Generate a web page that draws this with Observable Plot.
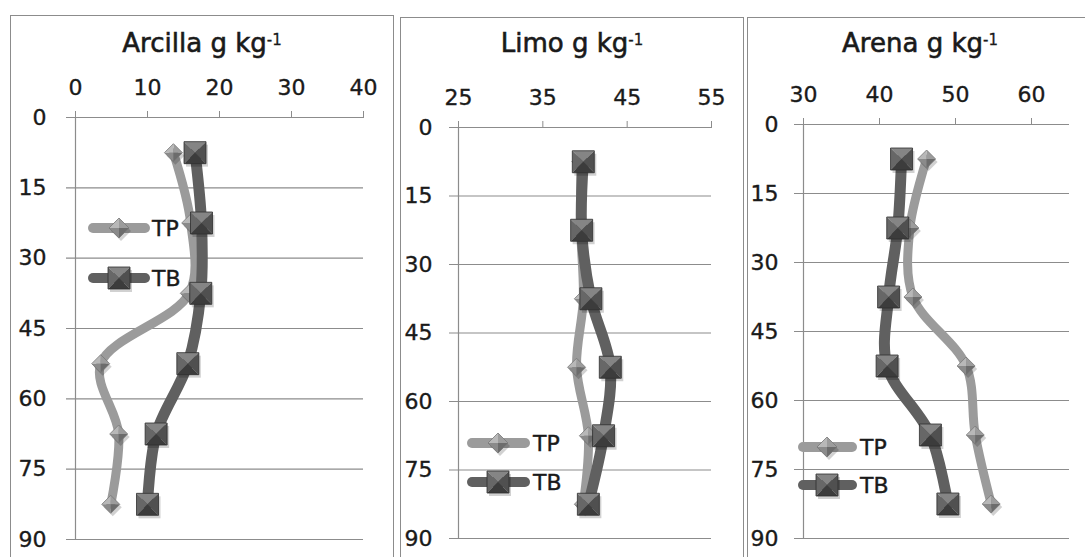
<!DOCTYPE html>
<html><head><meta charset="utf-8">
<script src="https://cdn.jsdelivr.net/npm/d3@7"></script>
<script src="https://cdn.jsdelivr.net/npm/@observablehq/plot@0.6"></script>
<style>
html,body{margin:0;padding:0;background:#fff;}
body{position:relative;width:1085px;height:557px;overflow:hidden;font-family:"DejaVu Sans",sans-serif;color:#1a1a1a;}
.panel{position:absolute;border:1px solid #8c8c8c;background:#fff;box-sizing:border-box;height:620px;}
.title{position:absolute;text-align:center;font-size:26px;line-height:30px;color:#1a1a1a;-webkit-text-stroke:0.6px #1a1a1a;}
.title sup{font-size:15px;vertical-align:top;position:relative;top:-3px;-webkit-text-stroke:0.3px #1a1a1a;}
.chart{position:absolute;}
.chart svg{overflow:visible;}
.chart svg text{stroke:#1a1a1a;stroke-width:0.35px;}
#legend{position:absolute;left:0;top:0;}
</style></head>
<body>
<div class="panel" style="left:10px;top:15px;width:384px;"></div>
<div class="panel" style="left:400px;top:17px;width:344px;"></div>
<div class="panel" style="left:747px;top:17px;width:346px;"></div>
<div class="title" style="left:10px;top:28px;width:384px;">Arcilla g kg<sup>-1</sup></div>
<div class="title" style="left:400px;top:28px;width:344px;">Limo g kg<sup>-1</sup></div>
<div class="title" style="left:747px;top:28px;width:346px;">Arena g kg<sup>-1</sup></div>
<div class="chart" id="c1" style="left:11px;top:60px;"></div>
<div class="chart" id="c2" style="left:401px;top:60px;"></div>
<div class="chart" id="c3" style="left:748px;top:60px;"></div>
<svg id="legend" width="1085" height="557"></svg>
<script>
// ---- data ----
const depth = [7.5, 22.5, 37.5, 52.5, 67.5, 82.5];
const yTicks = [0, 15, 30, 45, 60, 75, 90];
const arcillaTP = [13.6, 16.0, 15.8, 3.5, 6.0, 4.9];
const arcillaTB = [16.6, 17.5, 17.4, 15.6, 11.2, 10.0];
const limoTP = [39.5, 39.5, 39.8, 39.0, 40.4, 39.8];
const limoTB = [39.8, 39.6, 40.7, 43.0, 42.2, 40.4];
const arenaTP = [46.2, 44.0, 44.4, 51.4, 52.6, 54.7];
const arenaTB = [42.9, 42.4, 41.2, 41.0, 46.7, 49.0];
const arcillaTicks = [0, 10, 20, 30, 40];
const limoTicks = [25, 35, 45, 55];
const arenaTicks = [30, 40, 50, 60];
const seriesNames = ["TP", "TB"];

// ---- styling ----
const gridColor = "#8c8c8c";
const tpColor = "#9b9b9b";
const tbColor = "#606060";

function sym(points) {
  return {draw(ctx, size) {
    const r = Math.sqrt(size / Math.PI);
    ctx.moveTo(points[0][0] * r, points[0][1] * r);
    for (let i = 1; i < points.length; i++) ctx.lineTo(points[i][0] * r, points[i][1] * r);
    ctx.closePath();
  }};
}
const sqFull = sym([[-1,-1],[1,-1],[1,1],[-1,1]]);
const sqFacets = [
  [sym([[-1,-1],[1,-1],[0,0]]), "#858585"],
  [sym([[-1,-1],[-1,1],[0,0]]), "#676767"],
  [sym([[1,-1],[1,1],[0,0]]), "#505050"],
  [sym([[-1,1],[1,1],[0,0]]), "#3c3c3c"]
];
const dmFull = sym([[0,-1],[1,0],[0,1],[-1,0]]);
const dmFacets = [
  [sym([[0,-1],[-1,0],[0,0]]), "#b8b8b8"],
  [sym([[0,-1],[1,0],[0,0]]), "#9c9c9c"],
  [sym([[-1,0],[0,1],[0,0]]), "#8a8a8a"],
  [sym([[1,0],[0,1],[0,0]]), "#6c6c6c"]
];

function markers(rows, key, full, facets, r, outline) {
  const m = [Plot.dot(rows, {x: key, y: "depth", symbol: full, r, fill: "#000", fillOpacity: 0.18, dx: 2, dy: 3})];
  for (const [s, c] of facets) m.push(Plot.dot(rows, {x: key, y: "depth", symbol: s, r, fill: c}));
  m.push(Plot.dot(rows, {x: key, y: "depth", symbol: full, r, fill: "none", stroke: outline, strokeWidth: 0.8}));
  return m;
}

function panel(el, tp, tb, xDomain, xTicks, dims) {
  const rows = depth.map((d, i) => ({depth: d, TP: tp[i], TB: tb[i]}));
  const chart = Plot.plot({
    width: dims.width, height: 497,
    marginLeft: dims.ml, marginRight: dims.mr, marginTop: dims.mt, marginBottom: dims.mb,
    style: {fontFamily: "DejaVu Sans", fontSize: "22px", color: "#1a1a1a", background: "transparent"},
    x: {domain: xDomain},
    y: {domain: [0, 90], reverse: true},
    marks: [
      Plot.ruleY(yTicks, {stroke: gridColor, strokeWidth: 1.2, insetLeft: -9}),
      Plot.ruleX([xDomain[0]], {y1: 0, y2: 90, stroke: gridColor, strokeWidth: 1.2}),
      Plot.axisX({anchor: "top", ticks: xTicks, tickSize: 7, tickPadding: 16, label: null, stroke: gridColor}),
      Plot.axisY({ticks: yTicks, tickSize: 0, tickPadding: dims.yPad, label: null}),
      Plot.line(rows, {x: "TP", y: "depth", curve: "catmull-rom", stroke: tpColor, strokeWidth: 9, strokeLinecap: "round", strokeLinejoin: "round"}),
      ...markers(rows, "TP", dmFull, dmFacets, 9, "#777"),
      Plot.line(rows, {x: "TB", y: "depth", curve: "catmull-rom", stroke: tbColor, strokeWidth: 11, strokeLinecap: "round", strokeLinejoin: "round"}),
      ...markers(rows, "TB", sqFull, sqFacets, 11, "#2e2e2e")
    ]
  });
  document.getElementById(el).appendChild(chart);
}

panel("c1", arcillaTP, arcillaTB, [0, 40], arcillaTicks, {width: 382, ml: 64, mr: 30, mt: 57, mb: 18, yPad: 29});
panel("c2", limoTP, limoTB, [25, 55], limoTicks, {width: 342, ml: 57, mr: 32, mt: 67, mb: 19, yPad: 26});
panel("c3", arenaTP, arenaTB, [30, 65], arenaTicks, {width: 337, ml: 55, mr: 16, mt: 64, mb: 19, yPad: 25});

// ---- legends (overlay) ----
const legendSpots = [
  {x1: 88, x2: 150, mx: 119, tx: 152, yTP: 228, yTB: 278},
  {x1: 467, x2: 530, mx: 498, tx: 533, yTP: 443, yTB: 482},
  {x1: 798, x2: 857, mx: 827, tx: 860, yTP: 447, yTB: 485}
];
function poly(cx, cy, r, pts, fill, stroke, sw) {
  return `<polygon points="${pts.map(p => (cx + p[0]*r) + "," + (cy + p[1]*r)).join(" ")}" fill="${fill}"${stroke ? ` stroke="${stroke}" stroke-width="${sw}"` : ""}/>`;
}
const DM = {full: [[0,-1],[1,0],[0,1],[-1,0]], facets: [[[0,-1],[-1,0],[0,0]],[[0,-1],[1,0],[0,0]],[[-1,0],[0,1],[0,0]],[[1,0],[0,1],[0,0]]], colors: dmFacets.map(d => d[1])};
const SQ = {full: [[-1,-1],[1,-1],[1,1],[-1,1]], facets: [[[-1,-1],[1,-1],[0,0]],[[-1,-1],[-1,1],[0,0]],[[1,-1],[1,1],[0,0]],[[-1,1],[1,1],[0,0]]], colors: sqFacets.map(d => d[1])};
let html = "";
for (const L of legendSpots) {
  seriesNames.forEach((name, k) => {
    const y = k === 0 ? L.yTP : L.yTB;
    const color = k === 0 ? tpColor : tbColor;
    const shape = k === 0 ? DM : SQ;
    const r = k === 0 ? 10 : 11;
    html += `<line x1="${L.x1 + 5}" x2="${L.x2 - 5}" y1="${y}" y2="${y}" stroke="${color}" stroke-width="10" stroke-linecap="round"/>`;
    html += poly(L.mx + 2, y + 3, r, shape.full, "rgba(0,0,0,0.18)");
    shape.facets.forEach((f, i) => { html += poly(L.mx, y, r, f, shape.colors[i]); });
    html += poly(L.mx, y, r, shape.full, "none", k === 0 ? "#777" : "#2e2e2e", 0.8);
    html += `<text x="${L.tx}" y="${y}" dy="0.36em" font-family="DejaVu Sans" font-size="22" fill="#1a1a1a" stroke="#1a1a1a" stroke-width="0.4">${name}</text>`;
  });
}
document.getElementById("legend").innerHTML = html;
</script>
</body></html>
